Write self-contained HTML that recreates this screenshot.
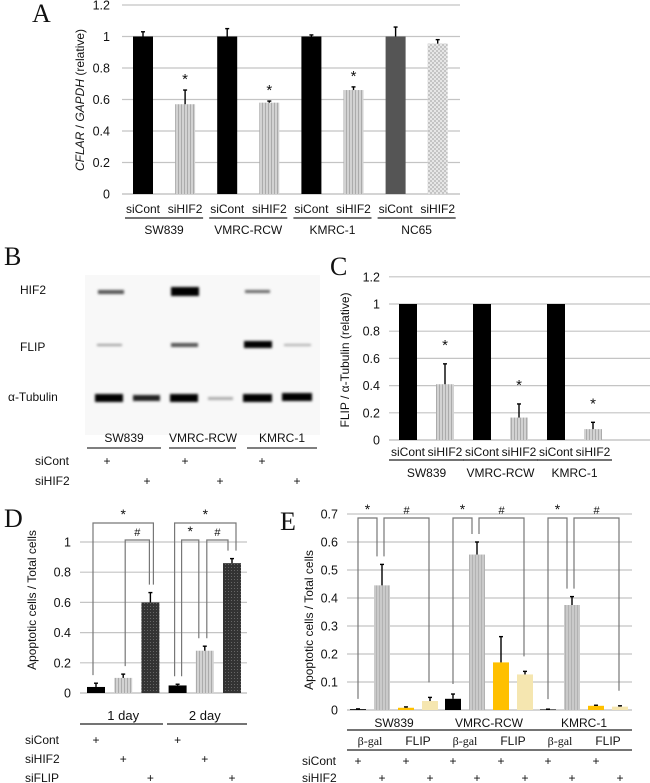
<!DOCTYPE html>
<html><head><meta charset="utf-8"><style>
html,body{margin:0;padding:0;background:#fff;}
svg{display:block;font-family:"Liberation Sans",sans-serif;}
.t{font-size:12.5px;fill:#111;}
.c{font-size:12px;fill:#111;}
.L{font-family:"Liberation Serif",serif;font-size:26px;fill:#111;}
</style></head><body>
<svg id="fig" width="650" height="783" viewBox="0 0 650 783" xmlns="http://www.w3.org/2000/svg">
<defs>
<pattern id="stripe" width="3" height="4" patternUnits="userSpaceOnUse"><rect width="3" height="4" fill="#d2d2d2"/><rect x="1" width="1" height="4" fill="#ababab"/></pattern>
<pattern id="dots" width="4" height="4" patternUnits="userSpaceOnUse"><rect width="4" height="4" fill="#c4c4c4"/><circle cx="1" cy="1" r="0.9" fill="#fff"/><circle cx="3" cy="3" r="0.9" fill="#fff"/></pattern>
<pattern id="hatch" width="3" height="3" patternUnits="userSpaceOnUse"><rect width="3" height="3" fill="#333"/><rect width="1" height="1" fill="#666"/></pattern>
<filter id="bl" x="-20%" y="-100%" width="140%" height="300%"><feGaussianBlur stdDeviation="1.4"/></filter>
</defs>
<text class="L" x="32" y="22">A</text>
<text class="L" x="4" y="265">B</text>
<text class="L" x="330" y="275">C</text>
<text class="L" x="4" y="527">D</text>
<text class="L" x="280" y="530">E</text>
<g id="blot">
<rect x="85" y="275" width="235" height="160" fill="#f8f8f8"/>
<text class="c" x="20" y="294">HIF2</text>
<text class="c" x="20" y="351">FLIP</text>
<text class="c" x="8" y="401">α-Tubulin</text>
<g filter="url(#bl)">
<rect x="98" y="290" width="26" height="4" fill="#555"/>
<rect x="171" y="287" width="28" height="9" fill="#000"/>
<rect x="245" y="290" width="25" height="3" fill="#666"/>
<rect x="97" y="344" width="25" height="2" fill="#999"/>
<rect x="171" y="343" width="27" height="4" fill="#555"/>
<rect x="244" y="341" width="28" height="7" fill="#000"/>
<rect x="284" y="344" width="27" height="2" fill="#aaa"/>
<rect x="95" y="394" width="28" height="8" fill="#000"/>
<rect x="133" y="395" width="27" height="6" fill="#222"/>
<rect x="170" y="394" width="28" height="8" fill="#050505"/>
<rect x="208" y="397" width="25" height="3" fill="#aaa"/>
<rect x="243" y="394" width="29" height="8" fill="#000"/>
<rect x="282" y="393" width="30" height="8" fill="#000"/>
</g>
<text class="c" x="124" y="442" text-anchor="middle">SW839</text>
<text class="c" x="203" y="442" text-anchor="middle">VMRC-RCW</text>
<text class="c" x="282" y="442" text-anchor="middle">KMRC-1</text>
<line x1="87" y1="448" x2="161" y2="448" stroke="#333" stroke-width="1.3"/>
<line x1="169" y1="448" x2="236" y2="448" stroke="#333" stroke-width="1.3"/>
<line x1="247" y1="448" x2="317" y2="448" stroke="#333" stroke-width="1.3"/>
<text class="c" x="35" y="465">siCont</text>
<text class="c" x="35" y="485">siHIF2</text>
<text class="c" x="107" y="465" text-anchor="middle">+</text>
<text class="c" x="185" y="465" text-anchor="middle">+</text>
<text class="c" x="262" y="465" text-anchor="middle">+</text>
<text class="c" x="147" y="485" text-anchor="middle">+</text>
<text class="c" x="220" y="485" text-anchor="middle">+</text>
<text class="c" x="297" y="485" text-anchor="middle">+</text>
</g>
</svg>
<script>
// ---- Panel A data ----
const aCats = ["siCont","siHIF2","siCont","siHIF2","siCont","siHIF2","siCont","siHIF2"];
const aGroups = ["SW839","VMRC-RCW","KMRC-1","NC65"];
const aValues = [1,0.57,1,0.58,1,0.66,1,0.955];
const aErrors = [0.03,0.09,0.05,0.01,0.01,0.02,0.06,0.025];
const aStars = [false,true,false,true,false,true,false,false];
const aTicks = [0,0.2,0.4,0.6,0.8,1,1.2];
// ---- Panel C data ----
const cCats = ["siCont","siHIF2","siCont","siHIF2","siCont","siHIF2"];
const cGroups = ["SW839","VMRC-RCW","KMRC-1"];
const cValues = [1,0.41,1,0.165,1,0.08];
const cErrors = [0,0.15,0,0.1,0,0.05];
const cTicks = [0,0.2,0.4,0.6,0.8,1,1.2];
// ---- Panel D data ----
const dGroups = ["1 day","2 day"];
const dValues = [0.04,0.1,0.6,0.05,0.28,0.86];
const dErrors = [0.025,0.025,0.065,0.008,0.03,0.03];
const dTicks = [0,0.2,0.4,0.6,0.8,1];
// ---- Panel E data ----
const eGroups = ["SW839","VMRC-RCW","KMRC-1"];
const eValues = [0.003,0.445,0.008,0.032, 0.04,0.555,0.17,0.127, 0.002,0.375,0.015,0.012];
const eErrors = [0.001,0.075,0.003,0.013, 0.017,0.045,0.092,0.011, 0.001,0.03,0.002,0.003];
const eTicks = [0,0.1,0.2,0.3,0.4,0.5,0.6,0.7];

const NS="http://www.w3.org/2000/svg";
const svg=document.getElementById('fig');
function mk(tag,attrs,name,text){
  const el=document.createElementNS(NS,tag);
  for(const k in attrs) el.setAttribute(k,attrs[k]);
  
  
  if(text!==undefined) el.textContent=text;
  svg.appendChild(el);
  return el;
}
function fmt(v){return String(Math.round(v*10)/10);}
function axis(ticks,y,x0,x1,lx,pfx,fmtf){
  ticks.forEach(t=>{
    mk('line',{x1:x0,x2:x1,y1:y(t),y2:y(t),stroke:t===0?'#bbb':'#c4c4c4','stroke-width':1.2},pfx+'-gridline');
    mk('text',{x:lx,y:y(t)+4.5,'text-anchor':'end',class:'t'},pfx+'-tick-label',fmtf(t));
  });
}
function bar(x,w,v,e,y,fill,name){
  mk('rect',{x:x,y:y(v),width:w,height:y(0)-y(v),fill:fill},name);
  if(e>0){
    const cx=x+w/2;
    mk('line',{x1:cx,x2:cx,y1:y(v),y2:y(v+e),stroke:'#000','stroke-width':1.4},name+'-error');
    mk('line',{x1:cx-2,x2:cx+2,y1:y(v+e),y2:y(v+e),stroke:'#000','stroke-width':1.4},name+'-error-cap');
  }
}

// ===== Panel A =====
const yA=v=>194-v*157.5, xA=i=>133+i*42.1, wA=20;
axis(aTicks,yA,122,460,110,'a',fmt);
const aFill=['#000','url(#stripe)','#000','url(#stripe)','#000','url(#stripe)','#555','url(#dots)'];
aValues.forEach((v,i)=>{
  bar(xA(i),wA,v,aErrors[i],yA,aFill[i],'a-bar-'+i);
  mk('text',{x:xA(i)+wA/2,y:213,'text-anchor':'middle',class:'c'},'a-category-label',aCats[i]);
  if(aStars[i]) mk('text',{x:xA(i)+wA/2,y:yA(v+aErrors[i])-6,'text-anchor':'middle',class:'t',style:'font-size:15px'},'a-significance-star','*');
});
aGroups.forEach((g,k)=>{
  mk('line',{x1:xA(2*k)-8,x2:xA(2*k+1)+wA+8,y1:218,y2:218,stroke:'#222','stroke-width':1.3},'a-group-line');
  mk('text',{x:(xA(2*k)+xA(2*k+1)+wA)/2,y:234,'text-anchor':'middle',class:'c'},'a-group-label',g);
});
const aT=mk('text',{x:0,y:0,transform:'translate(84,100) rotate(-90)','text-anchor':'middle',class:'c'},'a-y-axis-title');
aT.innerHTML='<tspan font-style="italic">CFLAR</tspan> / <tspan font-style="italic">GAPDH</tspan> (relative)';

// ===== Panel C =====
const yC=v=>440-v*136, xC=i=>399+i*37, wC=18;
axis(cTicks,yC,389,650,380,'c',fmt);
cValues.forEach((v,i)=>{
  bar(xC(i),wC,v,cErrors[i],yC,i%2?'url(#stripe)':'#000','c-bar-'+i);
  mk('text',{x:xC(i)+wC/2,y:456,'text-anchor':'middle',class:'c'},'c-category-label',cCats[i]);
  if(i%2) mk('text',{x:xC(i)+wC/2,y:yC(v+cErrors[i])-14,'text-anchor':'middle',class:'t',style:'font-size:15px'},'c-significance-star','*');
});
cGroups.forEach((g,k)=>{
  mk('line',{x1:xC(2*k)-10,x2:xC(2*k+1)+wC+10,y1:460,y2:460,stroke:'#222','stroke-width':1.3},'c-group-line');
  mk('text',{x:(xC(2*k)+xC(2*k+1)+wC)/2,y:477,'text-anchor':'middle',class:'c'},'c-group-label',g);
});
const cT=mk('text',{x:0,y:0,transform:'translate(349,360) rotate(-90)','text-anchor':'middle',class:'c'},'c-y-axis-title');
cT.innerHTML='FLIP / α-Tubulin (relative)';

// ===== Panel D =====
const yD=v=>693-v*151, xD=i=>87+i*27.2, wD=18;
axis(dTicks,yD,80,247,71,'d',fmt);
const dFill=['#000','url(#stripe)','url(#hatch)'];
dValues.forEach((v,i)=>{
  bar(xD(i),wD,v,dErrors[i],yD,dFill[i%3],'d-bar-'+i);
  const cx=xD(i)+wD/2;
  mk('text',{x:cx,y:[744,763,782][i%3],'text-anchor':'middle',class:'c'},'d-plus-marker','+');
});
dGroups.forEach((g,k)=>{
  mk('line',{x1:80+k*87,x2:163+k*84,y1:724,y2:724,stroke:'#222','stroke-width':1.3},'d-group-line');
  mk('text',{x:(xD(3*k)+xD(3*k+2)+wD)/2,y:720,'text-anchor':'middle',class:'c',style:'font-size:13px'},'d-group-label',g);
});
['siCont','siHIF2','siFLIP'].forEach((s,r)=>mk('text',{x:25,y:744+r*19,class:'c'},'d-row-label',s));
const dT=mk('text',{x:0,y:0,transform:'translate(36,600) rotate(-90)','text-anchor':'middle',class:'c'},'d-y-axis-title');
dT.textContent='Apoptotic cells / Total cells';
// brackets: [barA, barB, levelY, offA, offB, symbol]
const dBr=[[0,2,523,-3,3,'*'],[1,2,540,2,-1,'#'],[3,5,523,-3,4,'*'],[3,4,540,4,-6,'*'],[4,5,540,2,-4,'#']];
function bracket(y,xa,xb,ya,yb,sym,name){
  mk('polyline',{points:`${xa},${ya} ${xa},${y} ${xb},${y} ${xb},${yb}`,fill:'none',stroke:'#777','stroke-width':1.2},name);
  mk('text',{x:(xa+xb)/2,y:y-4,'text-anchor':'middle',class:'c',style:sym==='*'?'font-size:14px':'font-size:11px'},name+'-symbol',sym);
}
dBr.forEach(b=>{
  const xa=xD(b[0])+wD/2+b[3], xb=xD(b[1])+wD/2+b[4];
  bracket(b[2],xa,xb,yD(dValues[b[0]]+dErrors[b[0]])-8,yD(dValues[b[1]]+dErrors[b[1]])-8,b[5],'d-bracket');
});

// ===== Panel E =====
const yE=v=>710-v*280, xE=i=>350+Math.floor(i/4)*95+(i%4)*24, wE=16;
axis(eTicks,yE,347,632,338,'e',fmt);
const eFill=['#000','url(#stripe)','#ffc000','#f5e6b0'];
eValues.forEach((v,i)=>{
  bar(xE(i),wE,v,eErrors[i],yE,i%4===1?'#bdbdbd':eFill[i%4],'e-bar-'+i);
  if(i%4===1) mk('rect',{x:xE(i),y:yE(v),width:wE,height:yE(0)-yE(v),fill:'url(#stripe)',opacity:0.6},'e-bar-texture');
  mk('text',{x:xE(i)+wE/2,y:i%2?782:765,'text-anchor':'middle',class:'c'},'e-plus-marker','+');
});
eGroups.forEach((g,k)=>{
  const s=xE(4*k);
  mk('line',{x1:s-3,x2:s+92,y1:730,y2:730,stroke:'#222','stroke-width':1.3},'e-group-line');
  mk('line',{x1:s-3,x2:s+92,y1:750,y2:750,stroke:'#222','stroke-width':1.3},'e-construct-line');
  mk('text',{x:s+44,y:727,'text-anchor':'middle',class:'c'},'e-group-label',g);
  mk('text',{x:s+20,y:745,'text-anchor':'middle',class:'c',style:'font-family:Liberation Serif,serif'},'e-bgal-label','β-gal');
  mk('text',{x:s+68,y:745,'text-anchor':'middle',class:'c'},'e-flip-label','FLIP');
  bracket(518,s+8,s+24+3,yE(eValues[4*k]+eErrors[4*k])-10,yE(eValues[4*k+1]+eErrors[4*k+1])-8,'*','e-bracket-star');
  bracket(518,s+24+10,s+72+7,yE(eValues[4*k+1]+eErrors[4*k+1])-8,yE(eValues[4*k+3]+eErrors[4*k+3])-15,'#','e-bracket-hash');
});
mk('text',{x:302,y:765,class:'c'},'e-sicont-row','siCont');
mk('text',{x:302,y:782,class:'c'},'e-sihif2-row','siHIF2');
const eT=mk('text',{x:0,y:0,transform:'translate(313,620) rotate(-90)','text-anchor':'middle',class:'c'},'e-y-axis-title');
eT.textContent='Apoptotic cells / Total cells';
</script>
</body></html>
